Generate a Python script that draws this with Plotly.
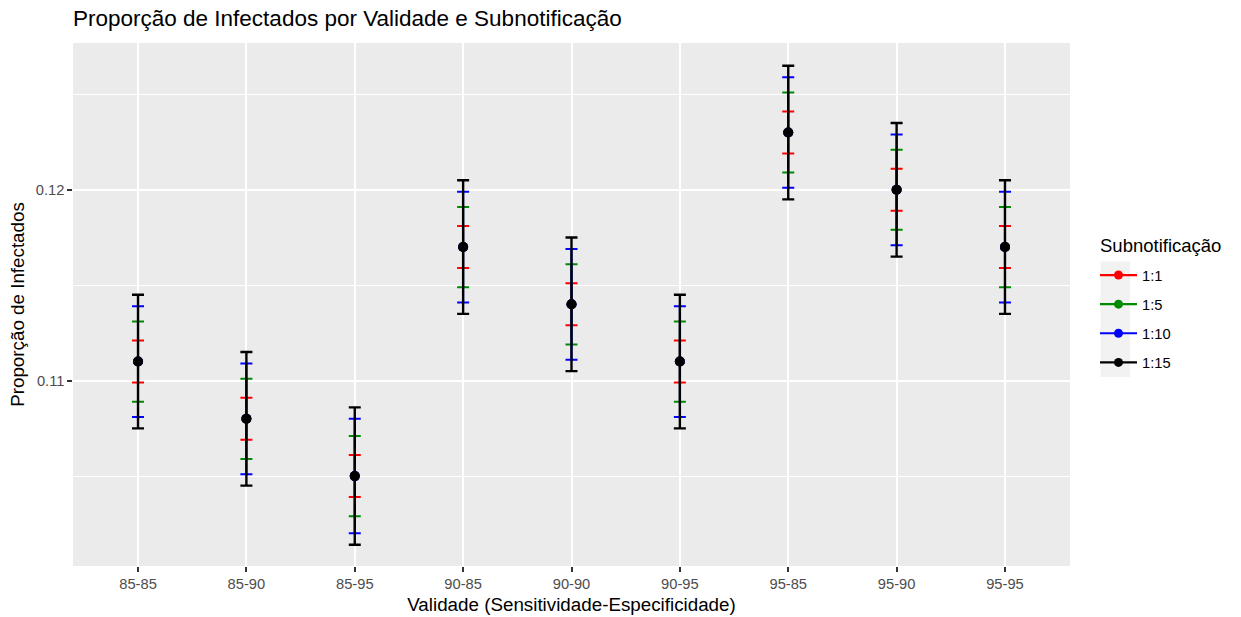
import plotly.graph_objects as go

# Validity combinations (sensitivity-specificity) on the x axis
categories = ["85-85", "85-90", "85-95", "90-85", "90-90", "90-95", "95-85", "95-90", "95-95"]

# Estimated proportion of infected for each combination
proporcao = [0.111, 0.108, 0.105, 0.117, 0.114, 0.111, 0.123, 0.120, 0.117]

# Half-width of the interval for each underreporting scenario
margem_1_1 = [0.0011, 0.0011, 0.0011, 0.0011, 0.0011, 0.0011, 0.0011, 0.0011, 0.0011]
margem_1_5 = [0.0021, 0.0021, 0.0021, 0.0021, 0.0021, 0.0021, 0.0021, 0.0021, 0.0021]
margem_1_10 = [0.0029, 0.0029, 0.0030, 0.0029, 0.0029, 0.0029, 0.0029, 0.0029, 0.0029]
margem_1_15 = [0.0035, 0.0035, 0.0036, 0.0035, 0.0035, 0.0035, 0.0035, 0.0035, 0.0035]

series_names = ["1:1", "1:5", "1:10", "1:15"]
series_margins = [margem_1_1, margem_1_5, margem_1_10, margem_1_15]
series_colors = ["#FF0000", "#008B00", "#0000FF", "#000000"]
bar_thickness = [2.0, 2.0, 2.0, 2.4]

y_ticks = [0.11, 0.12]
y_minor = [0.105, 0.115, 0.125]

FONT = "Liberation Sans, Arial, sans-serif"
W, H = 1241, 617
M_L, M_R, M_T, M_B = 73, 171, 43, 51
PANEL_W = W - M_L - M_R
PANEL_H = H - M_T - M_B

fig = go.Figure()

for name, marg, col, thick in zip(series_names, series_margins, series_colors, bar_thickness):
    fig.add_trace(go.Scatter(
        x=categories, y=proporcao, mode="markers", name=name,
        marker=dict(color=col, size=10),
        error_y=dict(type="data", array=marg, symmetric=True,
                     color=col, thickness=thick, width=6),
        showlegend=False,
    ))

# legend keys: point on a short line, as in the legend of a line+point layer
for name, col in zip(series_names, series_colors):
    fig.add_trace(go.Scatter(
        x=[None], y=[None], mode="lines+markers", name=name,
        line=dict(color=col, width=2.2), marker=dict(color=col, size=9),
        legendgroup=name,
    ))


def px_x(px):
    return (px - M_L) / PANEL_W


def px_y(px):
    return (H - M_B - px) / PANEL_H


# grey background behind the legend keys
fig.add_shape(type="rect", xref="paper", yref="paper",
              x0=px_x(1100.5), x1=px_x(1130),
              y0=px_y(377), y1=px_y(261.5),
              fillcolor="#F2F2F2", line=dict(width=0), layer="below")

# legend heading
fig.add_annotation(text="Subnotificação", xref="paper", yref="paper",
                   x=px_x(1098), y=px_y(245), xanchor="left", yanchor="middle",
                   showarrow=False,
                   font=dict(size=18.5, color="#000000", family=FONT))

fig.update_layout(
    width=W, height=H,
    margin=dict(l=M_L, r=M_R, t=M_T, b=M_B),
    paper_bgcolor="white", plot_bgcolor="#EBEBEB",
    font=dict(family=FONT, color="#000000"),
    title=dict(text="Proporção de Infectados por Validade e Subnotificação",
               xref="container", x=M_L / W, xanchor="left",
               yref="container", y=1 - 18 / H, yanchor="middle",
               font=dict(size=22.5, color="#000000", family=FONT)),
    xaxis=dict(
        type="category", range=[-0.6, 8.6], automargin=False,
        showgrid=True, gridcolor="white", gridwidth=2.2,
        ticks="outside", ticklen=4.6, tickcolor="#333333", tickwidth=2,
        tickfont=dict(size=14.7, color="#4D4D4D", family=FONT),
        title=dict(text="Validade (Sensitividade-Especificidade)", standoff=6,
                   font=dict(size=18.8, color="#000000", family=FONT)),
        zeroline=False, showline=False,
    ),
    yaxis=dict(
        range=[0.10029, 0.12769], automargin=False,
        tickmode="array", tickvals=y_ticks, ticktext=["0.11", "0.12"],
        showgrid=True, gridcolor="white", gridwidth=2.2,
        minor=dict(tickmode="array", tickvals=y_minor, showgrid=True,
                   gridcolor="white", gridwidth=1.1, ticks=""),
        ticks="outside", ticklen=4.6, tickcolor="#333333", tickwidth=2,
        tickfont=dict(size=14.7, color="#4D4D4D", family=FONT),
        title=dict(text="Proporção de Infectados", standoff=6,
                   font=dict(size=18.8, color="#000000", family=FONT)),
        zeroline=False, showline=False,
    ),
    legend=dict(
        x=px_x(1095), xanchor="left", y=px_y(259), yanchor="top",
        bgcolor="rgba(0,0,0,0)",
        font=dict(size=14.7, color="#000000", family=FONT),
        traceorder="grouped", tracegroupgap=7,
        itemwidth=37,
    ),
)

fig.write_html("out.html")
